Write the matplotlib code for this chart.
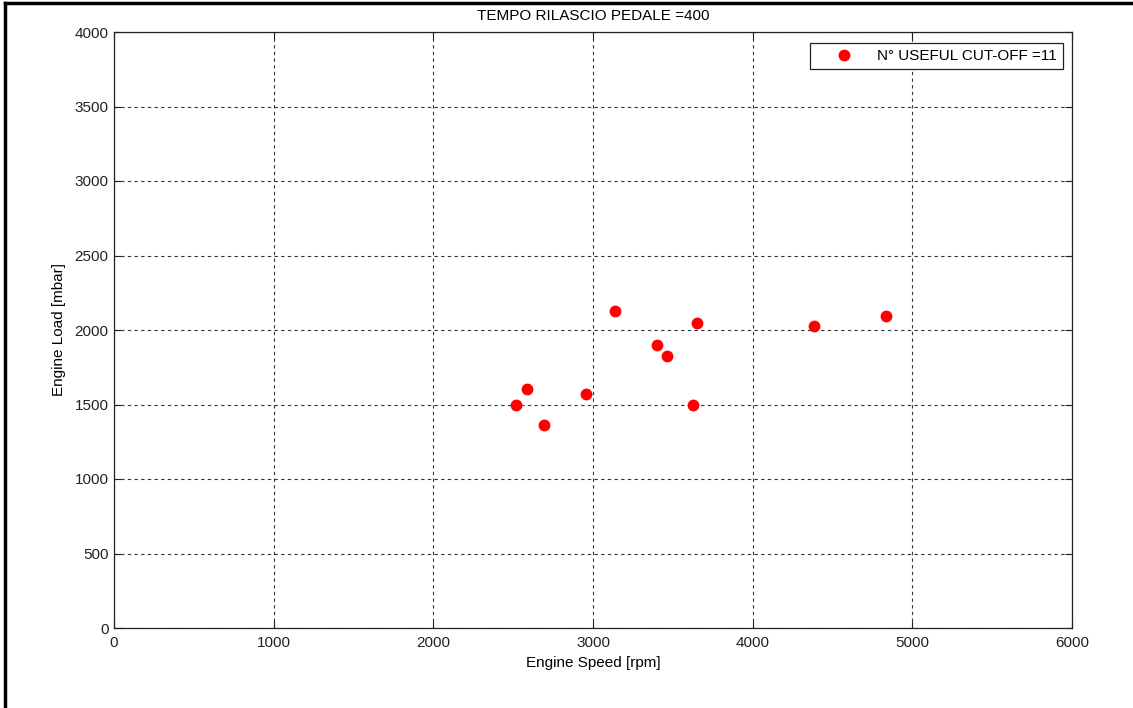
import matplotlib
matplotlib.use("Agg")
import matplotlib.pyplot as plt
from matplotlib.lines import Line2D

# Useful cut-off operating points
engine_speed = [2517, 2586, 2690, 2957, 3135, 3400, 3463, 3626, 3651, 4382, 4833]
engine_load = [1497, 1606, 1362, 1570, 2130, 1897, 1823, 1497, 2045, 2027, 2094]

x_ticks = [0, 1000, 2000, 3000, 4000, 5000, 6000]
y_ticks = [0, 500, 1000, 1500, 2000, 2500, 3000, 3500, 4000]

title_text = "TEMPO RILASCIO PEDALE =400"
legend_text = "N° USEFUL CUT-OFF =11"

plt.rcParams['font.family'] = ['Liberation Sans', 'DejaVu Sans']
plt.rcParams['font.size'] = 11

fig = plt.figure(figsize=(11.33, 7.08), dpi=100)
ax = fig.add_axes([114 / 1133, 1 - 628 / 708, (1072 - 114) / 1133, (628 - 32) / 708])

ax.plot(engine_speed, engine_load, linestyle='none', marker='o', markersize=7.5,
        markerfacecolor='#ff0000', markeredgecolor='#ff0000', label=legend_text, zorder=3)

ax.set_xlim(0, 6000)
ax.set_ylim(0, 4000)
ax.set_xticks(x_ticks)
ax.set_yticks(y_ticks)
ax.tick_params(direction='in', length=5, width=0.8, top=True, right=True,
               labelsize=11, colors='#222222')
ax.tick_params(axis='x', pad=6)
ax.tick_params(axis='y', pad=4)
ax.grid(True, color='#333333', linestyle=(0, (3, 3)), linewidth=0.8)
for s in ax.spines.values():
    s.set_linewidth(0.9)
    s.set_color('#222222')

ax.set_title(title_text, fontsize=11, pad=9)
ax.set_xlabel("Engine Speed [rpm]", fontsize=11, labelpad=4)
ax.set_ylabel("Engine Load [mbar]", fontsize=11, labelpad=6)

leg = ax.legend(loc='upper right', bbox_to_anchor=(1063 / 1133, 1 - 43 / 708),
                bbox_transform=fig.transFigure, fancybox=False, framealpha=1,
                edgecolor='#222222', borderpad=0.4, handletextpad=0.4,
                handlelength=3.6, fontsize=11, borderaxespad=0)
leg.get_frame().set_linewidth(0.9)

# Window frame along the top and left edges
fig.add_artist(Line2D([5.5 / 1133, 1], [1 - 2.5 / 708, 1 - 2.5 / 708],
                      transform=fig.transFigure, color='black', linewidth=2.5))
fig.add_artist(Line2D([5.5 / 1133, 5.5 / 1133], [0, 1 - 2.5 / 708],
                      transform=fig.transFigure, color='black', linewidth=2.5))

fig.savefig("out.png", dpi=100)
